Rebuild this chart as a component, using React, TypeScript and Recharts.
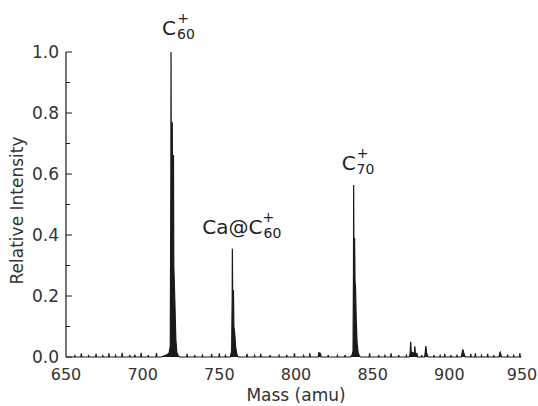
import { AreaChart, Area, XAxis, YAxis, ReferenceDot } from "recharts";

// spectrum: [mass (amu), relative intensity]
const SPECTRUM: [number, number][] = [
  [650, 0], [655.5, 0], [655.8, 0.004], [656.1, 0],
  [659.7, 0], [660, 0.012], [660.3, 0],
  [664.5, 0], [664.8, 0.004], [665.1, 0],
  [669.3, 0], [669.6, 0.01], [669.9, 0],
  [673.7, 0], [674, 0.004], [674.3, 0],
  [677.7, 0], [678, 0.012], [678.3, 0],
  [682, 0], [682.3, 0.005], [682.6, 0],
  [686.3, 0], [686.6, 0.014], [686.9, 0],
  [691.3, 0], [691.6, 0.006], [691.9, 0],
  [694.6, 0], [694.9, 0.008], [695.2, 0],
  [698.7, 0], [699, 0.014], [699.3, 0],
  [703.4, 0], [703.7, 0.006], [704, 0],
  [708.7, 0], [709, 0.013], [709.3, 0],
  [712, 0], [714, 0.004], [716, 0.008],
  [717.2, 0.012], [718.0, 0.035], [718.4, 0.6], [718.5, 1.0], [718.6, 0.75],
  [719.3, 0.77], [719.4, 0.66], [720.1, 0.66], [720.3, 0.3], [721.0, 0.18],
  [721.6, 0.06], [722.3, 0.015], [723.2, 0.004], [724, 0],
  [728.7, 0], [729, 0.01], [729.3, 0],
  [733.7, 0], [734, 0.006], [734.3, 0],
  [738.7, 0], [739, 0.005], [739.3, 0],
  [744.7, 0], [745, 0.01], [745.3, 0],
  [749.7, 0], [750, 0.012], [750.3, 0],
  [753.7, 0], [754, 0.005], [754.3, 0],
  [757.2, 0], [758.0, 0.02], [758.4, 0.2], [758.5, 0.355], [758.7, 0.2],
  [759.2, 0.22], [759.5, 0.1], [760.0, 0.08], [760.7, 0.03], [761.5, 0.008], [762.3, 0],
  [767.7, 0], [768, 0.01], [768.3, 0],
  [772.7, 0], [773, 0.005], [773.3, 0],
  [776.7, 0], [777, 0.01], [777.3, 0],
  [782.7, 0], [783, 0.006], [783.3, 0],
  [788.7, 0], [789, 0.005], [789.3, 0],
  [793.7, 0], [794, 0.007], [794.3, 0],
  [798.7, 0], [799, 0.012], [799.3, 0],
  [804.7, 0], [805, 0.005], [805.3, 0],
  [808.7, 0], [809, 0.012], [809.3, 0],
  [814.5, 0], [815, 0.016], [815.5, 0.006], [816, 0.01], [816.4, 0],
  [820.7, 0], [821, 0.006], [821.3, 0],
  [826.7, 0], [827, 0.005], [827.3, 0],
  [831.7, 0], [832, 0.006], [832.3, 0],
  [835.5, 0], [836.5, 0.006],
  [837.2, 0.02], [837.5, 0.3], [837.6, 0.564], [837.8, 0.3], [838.2, 0.39], [838.5, 0.25],
  [838.8, 0.23], [839.3, 0.12], [839.8, 0.05], [840.5, 0.015], [841.3, 0.004], [842, 0],
  [847.7, 0], [848, 0.012], [848.3, 0],
  [853.7, 0], [854, 0.006], [854.3, 0],
  [857.7, 0], [858, 0.005], [858.3, 0],
  [861.7, 0], [862, 0.012], [862.3, 0],
  [866.7, 0], [867, 0.006], [867.3, 0],
  [871.7, 0], [872, 0.005], [872.3, 0],
  [873.8, 0], [874.4, 0.01], [874.8, 0.05], [875.2, 0.012], [876.2, 0.015],
  [877.2, 0.01], [877.5, 0.035], [877.9, 0.01], [878.8, 0.012], [879.4, 0],
  [881.7, 0], [882, 0.006], [882.3, 0],
  [883.9, 0], [884.4, 0.02], [884.7, 0.036], [885.1, 0.015], [885.7, 0.005], [886.2, 0],
  [889.7, 0], [890, 0.006], [890.3, 0],
  [893.7, 0], [894, 0.005], [894.3, 0],
  [896.7, 0], [897, 0.01], [897.3, 0],
  [900.7, 0], [901, 0.006], [901.3, 0],
  [904.7, 0], [905, 0.005], [905.3, 0],
  [907.8, 0], [908.4, 0.015], [908.8, 0.025], [909.3, 0.015], [909.9, 0.006], [910.5, 0],
  [913.7, 0], [914, 0.01], [914.3, 0],
  [916.7, 0], [917, 0.012], [917.3, 0],
  [920.7, 0], [921, 0.005], [921.3, 0],
  [924.7, 0], [925, 0.01], [925.3, 0],
  [928.7, 0], [929, 0.006], [929.3, 0],
  [932.4, 0], [932.8, 0.012], [933.2, 0.016], [933.6, 0.008], [934, 0],
  [937.7, 0], [938, 0.008], [938.3, 0],
  [941.7, 0], [942, 0.005], [942.3, 0],
  [945.7, 0], [946, 0.012], [946.3, 0], [947, 0],
];

const X_TICKS = [650, 700, 750, 800, 850, 900, 950];
const Y_TICKS = [0, 0.1, 0.2, 0.3, 0.4, 0.5, 0.6, 0.7, 0.8, 0.9, 1.0];
const Y_LABELS = [0, 0.2, 0.4, 0.6, 0.8, 1.0];

const data = SPECTRUM.map(([mass, intensity]) => ({ mass, intensity }));

const INK = "#1a1a1a";
const TEXT = "#333";
const FONT = "'DejaVu Sans', sans-serif";
const CHART_W = 538;

function XTick(props: any) {
  const { x, y, payload } = props;
  // keep the last label inside the frame, like the scanned figure
  const half = 15;
  const cx = Math.min(x, CHART_W - half - 1);
  return (
    <text x={cx} y={y} dy="0.71em" textAnchor="middle" fontSize={16} fontFamily={FONT} fill={TEXT}>
      {payload.value}
    </text>
  );
}

function YTick(props: any) {
  const { x, y, payload } = props;
  const axisX = x + 7;
  const major = Y_LABELS.some((v) => Math.abs(v - payload.value) < 1e-6);
  return (
    <g>
      <line x1={axisX} x2={axisX + (major ? 6 : 4)} y1={y} y2={y} stroke={INK} strokeWidth={1} />
      {major && (
        <text x={x} y={y} dy="0.36em" textAnchor="end" fontSize={17} fontFamily={FONT} fill={TEXT}>
          {payload.value.toFixed(1)}
        </text>
      )}
    </g>
  );
}

function YTitle(props: any) {
  const { viewBox } = props;
  const cy = viewBox.y + viewBox.height / 2 + 6;
  return (
    <text
      x={17}
      y={cy}
      transform={`rotate(-90 17 ${cy})`}
      textAnchor="middle"
      dominantBaseline="central"
      fontSize={17}
      fontFamily={FONT}
      fill={TEXT}
    >
      Relative Intensity
    </text>
  );
}

// ion label: main text, subscript and a "+" above the subscript
function ionLabel(main: string, sub: string, dx: number, dy: number) {
  return (props: any) => {
    const { viewBox } = props;
    const x0 = viewBox.x + dx;
    const y0 = viewBox.y + dy;
    const mainW = main.length === 1 ? 13 : 58;
    return (
      <g fontFamily={FONT} fill="#222">
        <text x={x0} y={y0} fontSize={20}>
          {main}
          <tspan dy={4} dx={1} fontSize={14}>
            {sub}
          </tspan>
        </text>
        <text x={x0 + mainW + 8} y={y0 - 12} fontSize={14} textAnchor="middle">
          +
        </text>
      </g>
    );
  };
}

export default function App() {
  return (
    <div style={{ position: "fixed", left: 0, top: 0, width: 538, height: 406, background: "#fff" }}>
      <AreaChart width={CHART_W} height={406} data={data} margin={{ top: 52, right: 12, bottom: 0, left: 0 }}>
        <XAxis
          dataKey="mass"
          type="number"
          domain={[650, 950]}
          ticks={X_TICKS}
          axisLine={false}
          tickLine={false}
          tickSize={0}
          tickMargin={12}
          height={49}
          tick={XTick}
          interval={0}
          label={{ value: "Mass (amu)", position: "insideBottom", offset: 5, fontSize: 17, fontFamily: FONT, fill: TEXT }}
        />
        <YAxis
          type="number"
          domain={[0, 1]}
          ticks={Y_TICKS}
          width={66}
          axisLine={{ stroke: INK, strokeWidth: 1.2 }}
          tickLine={false}
          tickSize={0}
          tickMargin={7}
          tick={YTick}
          interval={0}
          label={{ content: YTitle }}
        />
        <Area
          dataKey="intensity"
          type="linear"
          stroke={INK}
          strokeWidth={1.2}
          fill={INK}
          fillOpacity={1}
          isAnimationActive={false}
          dot={false}
          activeDot={false}
        />
        <ReferenceDot x={718.5} y={1.0} r={0} fill="none" stroke="none" ifOverflow="visible" label={{ content: ionLabel("C", "60", -9, -17) }} />
        <ReferenceDot x={758.5} y={0.355} r={0} fill="none" stroke="none" ifOverflow="visible" label={{ content: ionLabel("Ca@C", "60", -30, -15) }} />
        <ReferenceDot x={837.6} y={0.564} r={0} fill="none" stroke="none" ifOverflow="visible" label={{ content: ionLabel("C", "70", -12, -15) }} />
      </AreaChart>
    </div>
  );
}
